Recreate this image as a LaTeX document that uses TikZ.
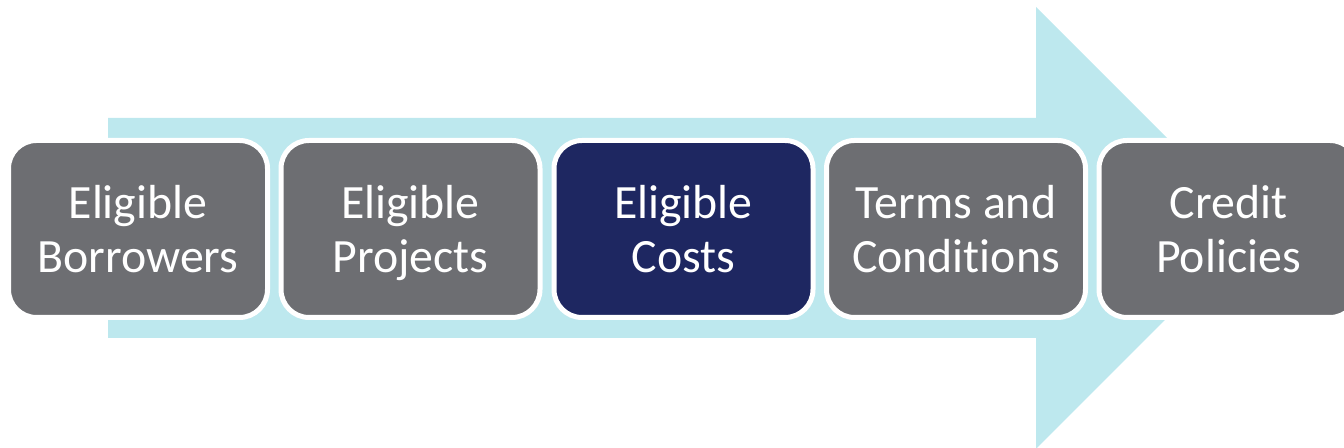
\documentclass[tikz,border=0pt]{standalone}
\usepackage{fontspec}
\setmainfont[Ligatures=NoCommon]{Carlito}
\definecolor{arrowcyan}{HTML}{BDE8EE}
\definecolor{stepgray}{HTML}{6D6E72}
\definecolor{stepnavy}{HTML}{1E2761}
\tikzset{
  stepbox/.style={draw=white, line width=0.05cm, fill=stepgray, rounded corners=0.28cm,
    minimum width=2.59cm, minimum height=1.77cm, inner sep=0pt, align=center,
    text height=1.3cm, text depth=0.42cm,
    text=white, font=\fontsize{13.6}{15.4}\selectfont},
  current/.style={stepbox, fill=stepnavy}
}
\begin{document}
\begin{tikzpicture}
                              \useasboundingbox (0,0) rectangle (13.44,4.48);
                              \clip (0,0) rectangle (13.44,4.48);

                              \fill[arrowcyan] (1.08,3.30) -- (10.36,3.30) -- (10.36,4.41) -- (12.57,2.20)
                                -- (10.36,-0.01) -- (10.36,1.10) -- (1.08,1.10) -- cycle;

                              \node[stepbox] (borrowers) at (1.38,2.19) {Eligible\\Borrowers};
                              \node[stepbox] (projects) at (4.105,2.19) {Eligible\\Projects};
                              \node[current] (costs) at (6.835,2.19) {Eligible\\Costs};
                              \node[stepbox] (terms) at (9.56,2.19) {Terms and\\Conditions};
                              \node[stepbox] (policies) at (12.285,2.19) {Credit\\Policies};
                      \end{tikzpicture}
\end{document}
